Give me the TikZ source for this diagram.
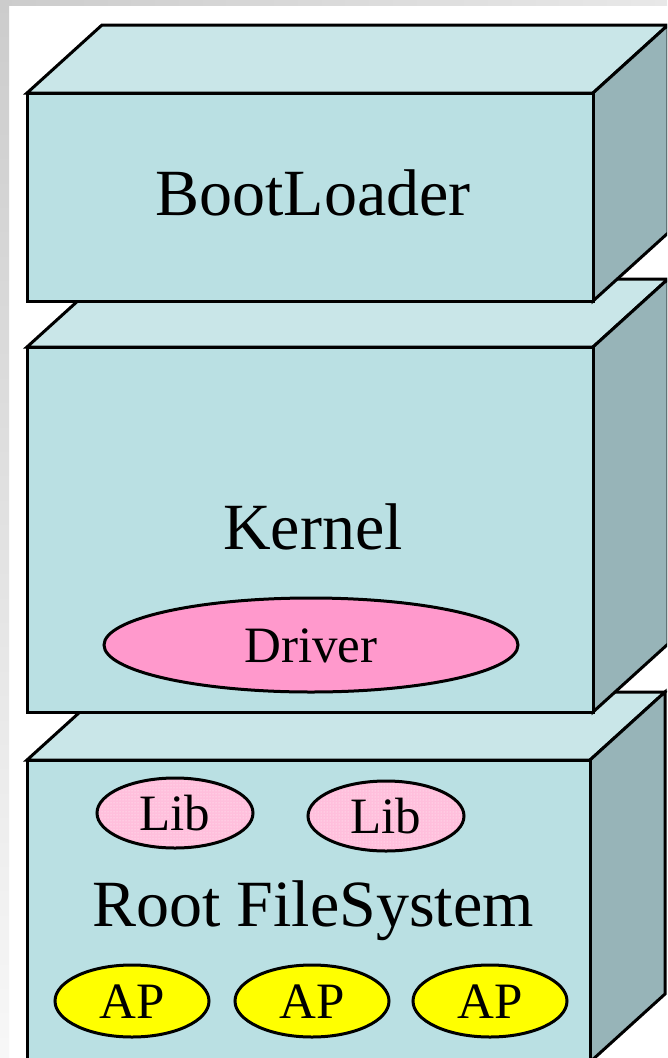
\documentclass[tikz,border=0pt]{standalone}
\usepackage{fontspec}
\setmainfont{Liberation Serif}
\usetikzlibrary{shapes.geometric,patterns}

\definecolor{facefront}{HTML}{BAE0E3}
\definecolor{facetop}{HTML}{C9E6E8}
\definecolor{faceside}{HTML}{97B4B8}
\definecolor{drvpink}{HTML}{FF99CC}
\definecolor{libpink}{HTML}{FFBFDC}
\definecolor{apyellow}{HTML}{FFFF00}
\definecolor{edgegray}{HTML}{CCCCCC}

% one slab of the stack: front rectangle (x0,y0)-(x1,y1), seen with depth (75,-68)
\newcommand\slab[4]{%
  \filldraw[topface] (#1,#2) -- ++(75,-68) -- ({#3+75},{#2-68}) -- (#3,#2) -- cycle;
  \filldraw[sideface] (#3,#2) -- ({#3+75},{#2-68}) -- ({#3+75},{#4-68}) -- (#3,#4) -- cycle;
  \filldraw[frontface] (#1,#2) rectangle (#3,#4);
}

\begin{document}
\begin{tikzpicture}[x=1pt,y=-1pt,
  outline/.style={draw=black,line width=3pt},
  topface/.style={outline,fill=facetop},
  sideface/.style={outline,fill=faceside},
  frontface/.style={outline,fill=facefront},
  bigtext/.style={anchor=base,inner sep=0pt,font=\fontsize{66}{70}\selectfont},
  bubble/.style={ellipse,outline,inner sep=0pt,text height=34pt,text depth=0pt,
    font=\fontsize{51}{55}\selectfont},
  drvbubble/.style={bubble,fill=drvpink,minimum width=414pt,minimum height=94pt},
  libbubble/.style={bubble,fill=libpink,minimum width=156pt,minimum height=70pt},
  apbubble/.style={bubble,fill=apyellow,minimum width=154pt,minimum height=72pt},
]
\useasboundingbox (0,0) rectangle (667,1058);
\clip (0,0) rectangle (667,1058);
\fill[white] (0,0) rectangle (667,1058);
% grey window edges
\shade[top color=edgegray,middle color=edgegray!80!white,bottom color=white!97!black]
  (0,0) rectangle (9,1058);
\shade[left color=edgegray,right color=white!91!black] (0,0) rectangle (667,5);

% root file system (lowest slab)
\slab{27}{760}{590}{1062}
\node[libbubble] (lib1) at (175,813) {};
\node[libbubble] (lib2) at (386,816) {};
\fill[pattern=dots,pattern color=white!85!libpink] (lib1.center) ellipse [x radius=75pt,y radius=32pt];
\fill[pattern=dots,pattern color=white!85!libpink] (lib2.center) ellipse [x radius=75pt,y radius=32pt];
\node[libbubble,fill=none,draw=none] (lib1text) at (lib1.center) {Lib};
\node[libbubble,fill=none,draw=none] (lib2text) at (lib2.center) {Lib};
\node[bigtext] (rfs) at (313,926) {Root FileSystem};
\node[apbubble] (ap1) at (132,1001) {AP};
\node[apbubble] (ap2) at (312,1001) {AP};
\node[apbubble] (ap3) at (490,1001) {AP};

% kernel slab
\slab{27}{347}{593}{712}
\node[bigtext] (kernel) at (313,549) {Kernel};
\node[drvbubble] (driver) at (311,645) {Driver};

% boot loader slab (top)
\slab{27}{93}{593}{301}
\node[bigtext] (boot) at (313,215) {BootLoader};
\end{tikzpicture}
\end{document}
